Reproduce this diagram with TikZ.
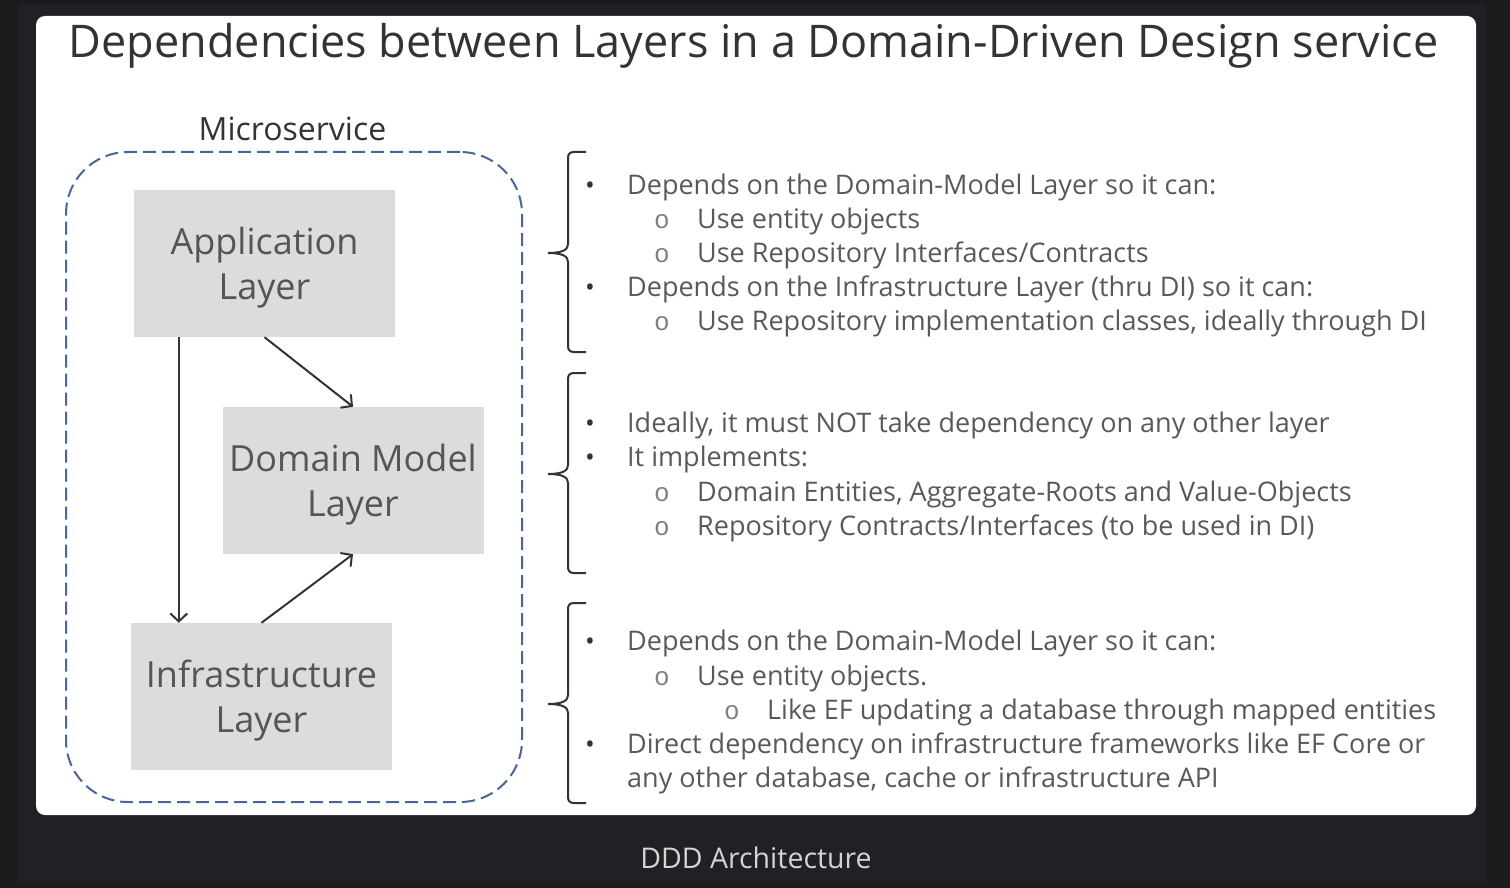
\documentclass[tikz,border=0pt]{standalone}
\usepackage{fontspec}
\setmainfont{Open Sans}
\newfontfamily\obulfont{Liberation Mono}
\usetikzlibrary{arrows.meta}
\definecolor{outerbg}{HTML}{1B1B1D}
\definecolor{panelbg}{HTML}{202124}
\definecolor{boxfill}{HTML}{DCDCDC}
\definecolor{boxtext}{HTML}{555555}
\definecolor{listtext}{HTML}{595959}
\definecolor{darktext}{HTML}{333333}
\definecolor{obulcol}{HTML}{808080}
\definecolor{dashblue}{HTML}{4A659A}
\definecolor{captext}{HTML}{D4D4D4}
\newcommand\boxlines[2]{\raisebox{-4pt}[\height][\depth]{\begin{tabular}{@{}c@{}}#1\\#2\end{tabular}}}
\tikzset{
  layerbox/.style={fill=boxfill, minimum width=261pt, minimum height=147pt, inner sep=0pt, align=center, text=boxtext, font=\fontsize{36}{45}\selectfont},
  arr/.style={draw=darktext, line width=2pt, -{Straight Barb[length=8pt,width=17pt,line width=2pt]}},
  itemt/.style={anchor=base west, inner sep=0pt, text=listtext, font=\fontsize{27}{31}\selectfont},
  bulA/.style={anchor=base, inner sep=0pt, text=darktext, font=\fontsize{26}{30}\selectfont},
  bulB/.style={anchor=base, inner sep=0pt, text=obulcol, font=\obulfont\fontsize{26}{30}\selectfont},
  bracepath/.style={draw=darktext, line width=2pt},
  dddbrace/.pic={\draw[bracepath] (18,0) -- (6,0) .. controls (2,0) and (0,2) .. (0,6) -- (0,92) .. controls (0,97) and (-4,101) .. (-20,101) .. controls (-4,101) and (0,105) .. (0,110) -- (0,194) .. controls (0,198) and (2,200) .. (6,200) -- (18,200);}
}
\begin{document}
\begin{tikzpicture}[x=1pt,y=-1pt]
\useasboundingbox (0,0) rectangle (1510,888);
\fill[outerbg] (0,0) rectangle (1510,888);
\fill[panelbg] (18,4) rectangle (1486,883);
\fill[white, rounded corners=9pt] (36,16) rectangle (1476,815);

\node[anchor=base, inner sep=0pt, text=darktext, font=\fontsize{45}{52}\selectfont] (title) at (753.5,58) {Dependencies between Layers in a Domain-Driven Design service};

\node[draw=dashblue, line width=2pt, dash pattern=on 13pt off 6pt, rounded corners=62pt, minimum width=456pt, minimum height=650pt, inner sep=0pt] (ms) at (294,477) {};
\node[anchor=base, inner sep=0pt, text=darktext, font=\fontsize{32}{38}\selectfont] (mslabel) at (292.5,141) {Microservice};

\node[layerbox] (app) at (264.5,263.5) {\boxlines{Application}{Layer}};
\node[layerbox] (dom) at (353,480.5) {\boxlines{Domain Model}{Layer}};
\node[layerbox] (infra) at (261.5,696.5) {\boxlines{Infrastructure}{Layer}};

\draw[arr] ([xshift=45pt]app.south west) -- ([xshift=45pt]app.south west |- infra.north);
\draw[arr] (app.south) -- (dom.north);
\draw[arr] (infra.north) -- (dom.south);

\pic at (568,152) {dddbrace};
\pic at (568,373) {dddbrace};
\pic at (568,603) {dddbrace};

% block 1
\node[bulA] (b1a) at (590,194) {\textbullet};
\node[itemt] (t1a) at (627,194) {Depends on the Domain-Model Layer so it can:};
\node[bulB] (b1b) at (662,228) {o};
\node[itemt] (t1b) at (697,228) {Use entity objects};
\node[bulB] (b1c) at (662,262) {o};
\node[itemt] (t1c) at (697,262) {Use Repository Interfaces/Contracts};
\node[bulA] (b1d) at (590,296) {\textbullet};
\node[itemt] (t1d) at (627,296) {Depends on the Infrastructure Layer (thru DI) so it can:};
\node[bulB] (b1e) at (662,330) {o};
\node[itemt] (t1e) at (697,330) {Use Repository implementation classes, ideally through DI};

% block 2
\node[bulA] (b2a) at (590,432) {\textbullet};
\node[itemt] (t2a) at (627,432) {Ideally, it must NOT take dependency on any other layer};
\node[bulA] (b2b) at (590,466) {\textbullet};
\node[itemt] (t2b) at (627,466) {It implements:};
\node[bulB] (b2c) at (662,501) {o};
\node[itemt] (t2c) at (697,501) {Domain Entities, Aggregate-Roots and Value-Objects};
\node[bulB] (b2d) at (662,535) {o};
\node[itemt] (t2d) at (697,535) {Repository Contracts/Interfaces (to be used in DI)};

% block 3
\node[bulA] (b3a) at (590,650) {\textbullet};
\node[itemt] (t3a) at (627,650) {Depends on the Domain-Model Layer so it can:};
\node[bulB] (b3b) at (662,685) {o};
\node[itemt] (t3b) at (697,685) {Use entity objects.};
\node[bulB] (b3c) at (732,719) {o};
\node[itemt] (t3c) at (767,719) {Like EF updating a database through mapped entities};
\node[bulA] (b3d) at (590,753) {\textbullet};
\node[itemt] (t3d) at (627,753) {Direct dependency on infrastructure frameworks like EF Core or};
\node[itemt] (t3e) at (627,787) {any other database, cache or infrastructure API};

\node[anchor=base, inner sep=0pt, text=captext, font=\fontsize{28.5}{32}\selectfont] (cap) at (756,868) {DDD Architecture};
\end{tikzpicture}
\end{document}
